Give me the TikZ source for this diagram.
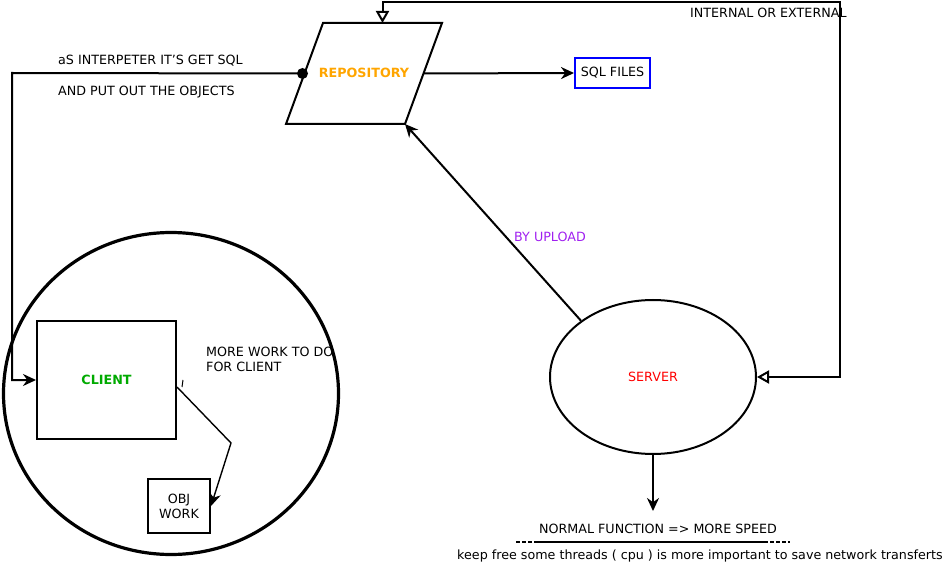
\documentclass[tikz,border=0pt]{standalone}
\usepackage{fontspec}
\setmainfont{DejaVu Sans}
\usetikzlibrary{arrows.meta, shapes.geometric, positioning, calc}
\definecolor{RepoOrange}{RGB}{255,165,0}
\definecolor{ClientGreen}{RGB}{0,170,0}
\definecolor{UploadPurple}{RGB}{160,32,240}
\definecolor{FilesBlue}{RGB}{0,0,255}

\begin{document}
\begin{tikzpicture}[x=1pt, y=-1pt, font=\fontsize{12.7}{15}\selectfont,
	every node/.style={inner sep=0pt},
	flow/.style={draw, line width=2pt},
	solidtip/.style={-{Stealth[length=13pt, width=12pt]}},
	opentips/.style={{Triangle[open, length=12pt, width=13pt]}-{Triangle[open, length=12pt, width=13pt]}},
	boxed/.style={draw, line width=2pt}]
	\useasboundingbox (0,0) rectangle (946,564);

	% repository and files
	\coordinate (repoTL) at (323,23);
	\coordinate (repoTR) at (442,23);
	\coordinate (repoBR) at (405,124);
	\coordinate (repoBL) at (286,124);
	\draw[line width=2pt] (repoTL) -- (repoTR) -- (repoBR) -- (repoBL) -- cycle;
	\node[font=\fontsize{12.7}{15}\selectfont\bfseries, text=RepoOrange] (repo) at (364,73) {REPOSITORY};
	\coordinate (repoN) at ($(repoTL)!0.5!(repoTR)$);
	\coordinate (repoE) at ($(repoTR)!0.5!(repoBR)$);
	\node[circle, fill, minimum size=11pt] (dot) at ($(repoTL)!0.5!(repoBL)+(-2,0)$) {};
	\node[draw=FilesBlue, line width=2pt, minimum width=75, minimum height=30] (files) at (612.5,73) {SQL FILES};

	% client side
	\node[draw, ellipse, line width=3.2pt, minimum width=335, minimum height=322] (zone) at (171,393.5) {};
	\node[boxed, minimum width=139, minimum height=118, font=\fontsize{12.7}{15}\selectfont\bfseries,
		text=ClientGreen] (client) at (106.5,380) {CLIENT};
	\node[boxed, minimum width=62, minimum height=54, align=center] (obj) at (179,506) {OBJ\\WORK};
	\coordinate (bend) at (12,73);
	\coordinate (kink) at (231,443);

	% server side
	\node[boxed, ellipse, minimum width=206, minimum height=154, text=red] (server) at (653,377) {SERVER};
	\coordinate (loop) at (840,2);
	\coordinate (speedtip) at (653,511);

	% labels
	\node[anchor=west] (interp) at (58,61) {aS INTERPETER IT'S GET SQL};
	\node[anchor=west] (putout) at (58,92) {AND PUT OUT THE OBJECTS};
	\node[anchor=west] (where) at (690,13) {INTERNAL OR EXTERNAL};
	\node[anchor=west, text=UploadPurple] (upload) at (514,237) {BY UPLOAD};
	\node[anchor=north west, align=left] (morework) at (206,347) {MORE WORK TO DO\\FOR CLIENT};
	\node (normal) at (658,529) {NORMAL FUNCTION => MORE SPEED};
	\node (threads) at (700,556) {keep free some threads ( cpu ) is more important to save network transferts};

	% connectors
	\draw[flow, solidtip] (dot.center) -- (bend) |- (client.west);
	\draw[flow, solidtip] (repoE) -- (files.west);
	\draw[flow, opentips] (repoN) |- (loop) |- (server.east);
	\draw[flow, solidtip] (server.142) -- (repoBR);
	\draw[flow, solidtip] (server.south) -- (speedtip);
	\draw[line width=1pt] (183,380) -- (182,387);
	\draw[line width=1.4pt, solidtip] ($(client.east)+(0,7)$) -- (kink) -- (obj.east);
	\draw[line width=2pt, dash pattern=on 4pt off 2pt] (516,542) -- (536,542);
	\draw[line width=2pt] (536,542) -- (768,542);
	\draw[line width=2pt, dash pattern=on 4pt off 2pt] (770,542) -- (790,542);
\end{tikzpicture}
\end{document}
